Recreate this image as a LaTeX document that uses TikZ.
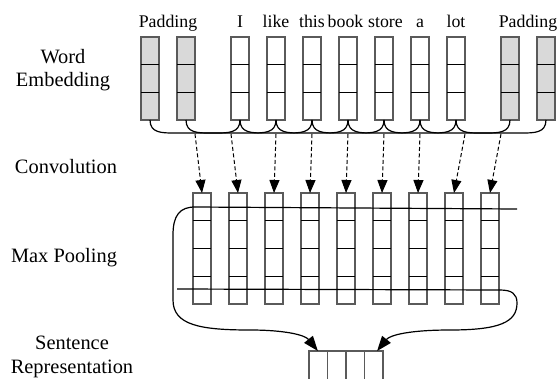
\documentclass[tikz,border=0pt]{standalone}
\usepackage{fontspec}
\setmainfont{Liberation Serif}
\usetikzlibrary{arrows.meta,calc}
\definecolor{boxgray}{HTML}{5A5A5A}
\definecolor{padfill}{HTML}{D9D9D9}
\tikzset{
  col/.style={draw=boxgray,line width=1.2pt,minimum width=18pt,inner sep=0pt,outer sep=0pt},
  wordcol/.style={col,minimum height=83pt},
  padcol/.style={wordcol,fill=padfill},
  convcol/.style={col,minimum height=111pt},
  lbl/.style={font=\fontsize{20.4}{23.5}\selectfont,align=center,inner sep=0pt},
  wlbl/.style={font=\fontsize{17.8}{22}\selectfont,anchor=base,inner sep=0pt},
  divider/.style={black,line width=1pt},
  brace/.style={black,line width=1.2pt},
  convarrow/.style={dashed,dash pattern=on 4pt off 2.5pt,line width=1pt,-{Triangle[length=13pt,width=10pt]}},
  poolline/.style={black,line width=1.2pt},
  poolarrow/.style={poolline,-{Triangle[length=15pt,width=11pt]}}
}
\begin{document}
\begin{tikzpicture}[x=1pt,y=-1pt]
\useasboundingbox (0,0) rectangle (560,378);
% left labels
\node[lbl] (lwe) at (63,70) {Word\\Embedding};
\node[lbl,anchor=base] (lconv) at (66,173) {Convolution};
\node[lbl,anchor=base] (lmax) at (64,262) {Max Pooling};
\node[lbl,anchor=south] (lsent) at (72,377.8) {Sentence\\Representation};
% word embedding columns
\foreach \i/\x/\s in {1/150/padcol,2/186/padcol,3/240/wordcol,4/276/wordcol,5/312/wordcol,6/348/wordcol,7/384/wordcol,8/420/wordcol,9/456/wordcol,10/510/padcol,11/546/padcol}{
  \node[\s,anchor=north] (w\i) at (\x,37) {};
  \draw[divider] ($(w\i.north west)+(0,27.7)$) -- ($(w\i.north east)+(0,27.7)$);
  \draw[divider] ($(w\i.north west)+(0,55.3)$) -- ($(w\i.north east)+(0,55.3)$);
}
% words
\node[wlbl] (tpad1) at (168,27) {Padding};
\node[wlbl] (tI) at (240,27) {I};
\node[wlbl] (tlike) at (276,27) {like};
\node[wlbl] (tthis) at (312,27) {this};
\node[wlbl] (tbook) at (345.5,27) {book};
\node[wlbl] (tstore) at (385.5,27) {store};
\node[wlbl] (ta) at (420,27) {a};
\node[wlbl] (tlot) at (456,27) {lot};
\node[wlbl] (tpad2) at (528,27) {Padding};
% conv columns
\foreach \j/\x in {1/202,2/238,3/274,4/310,5/346,6/382,7/418,8/454,9/490}{
  \node[convcol,anchor=north] (c\j) at (\x,193) {};
  \foreach \d in {27.7,55.5,83.2}{
    \draw[divider] ($(c\j.north west)+(0,\d)$) -- ($(c\j.north east)+(0,\d)$);
  }
}
% braces and dashed arrows
\foreach \j in {1,...,9}{
  \pgfmathtruncatemacro{\k}{\j+2}
  \draw[brace] (w\j.south) .. controls +(0,13) and +(-12,0) .. ($(w\j.south)+(24,13)$)
     -- ($(w\k.south)+(-24,13)$) .. controls +(12,0) and +(0,13) .. (w\k.south);
  \coordinate (a\j) at ($(w\j.south)!0.5!(w\k.south)+(0,14)$);
  \draw[convarrow] (a\j) -- (c\j.north);
}
% sentence representation
\node[draw=boxgray,line width=1.2pt,minimum width=74pt,minimum height=40pt,inner sep=0pt,outer sep=0pt,anchor=north] (s) at (346,351) {};
\foreach \f in {0.25,0.5,0.75}{
  \draw[boxgray,line width=1.2pt] ($(s.north west)!\f!(s.north east)$) -- ($(s.south west)!\f!(s.south east)$);
}
% max pooling lines
\coordinate (u1) at (517,209);
\coordinate (u0) at (195,207);
\coordinate (b0) at (177,289);
\coordinate (b1) at (500,290);
\coordinate (sl) at ($(s.north west)!0.12!(s.north east)$);
\coordinate (sr) at ($(s.north west)!0.92!(s.north east)$);
\draw[poolline] (u1) -- (u0);
\draw[poolarrow] (u0) .. controls (180,207) and (173,215) .. (173,235)
   -- (173,300) .. controls (173,325) and (200,330) .. (250,330)
   .. controls (285,330) and (305,335) .. (sl);
\draw[poolline] (b0) -- (b1);
\draw[poolarrow] (b1) .. controls (512,290) and (517,294) .. (517,303)
   .. controls (517,322) and (500,330) .. (450,330)
   .. controls (410,330) and (390,335) .. (sr);
\end{tikzpicture}
\end{document}
